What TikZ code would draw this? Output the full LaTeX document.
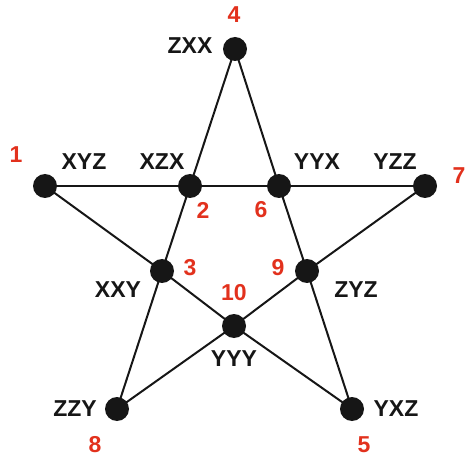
\documentclass[tikz,border=0pt]{standalone}
\usepackage{fontspec}
\setmainfont{Liberation Sans}
\definecolor{numred}{HTML}{E2311D}
\definecolor{dotblack}{HTML}{161616}
\begin{document}
\begin{tikzpicture}[x=1pt,y=-1pt,
  vert/.style={circle,fill=dotblack,inner sep=0pt,minimum size=24pt},
  edge/.style={draw=dotblack,line width=2pt},
  lab/.style={font=\fontsize{23}{25}\selectfont\bfseries,text=dotblack,inner sep=0pt},
  num/.style={font=\fontsize{23}{25}\selectfont\bfseries,text=numred,inner sep=0pt}]
\useasboundingbox (0,0) rectangle (466,457);
\coordinate (n4) at (235,49);
\coordinate (n1) at (45,186);
\coordinate (n2) at (190,186);
\coordinate (n6) at (279,186);
\coordinate (n7) at (425,186);
\coordinate (n3) at (162,271);
\coordinate (n9) at (307,271);
\coordinate (n10) at (234,326);
\coordinate (n8) at (117,409);
\coordinate (n5) at (352,409);
\draw[edge] (n4) -- (n2) -- (n3) -- (n8);
\draw[edge] (n4) -- (n6) -- (n9) -- (n5);
\draw[edge] (n1) -- (n2) -- (n6) -- (n7);
\draw[edge] (n1) -- (n3) -- (n10) -- (n5);
\draw[edge] (n7) -- (n9) -- (n10) -- (n8);
\foreach \n in {n4,n1,n2,n6,n7,n3,n9,n10,n8,n5} \node[vert] (d\n) at (\n) {};
% labels
\node[lab] (l4) at (190,46) {ZXX};
\node[lab] (l1) at (84,162) {XYZ};
\node[lab] (l2) at (162,162) {XZX};
\node[lab] (l6) at (317,162) {YYX};
\node[lab] (l7) at (395,162) {YZZ};
\node[lab] (l3) at (118,290) {XXY};
\node[lab] (l9) at (356,290) {ZYZ};
\node[lab] (l10) at (234,359) {YYY};
\node[lab] (l8) at (75,409) {ZZY};
\node[lab] (l5) at (396,409) {YXZ};
% numbers
\node[num] (c4) at (234,15) {4};
\node[num] (c1) at (16,155) {1};
\node[num] (c2) at (203,210) {2};
\node[num] (c6) at (261,210) {6};
\node[num] (c7) at (459,176) {7};
\node[num] (c3) at (190,268) {3};
\node[num] (c9) at (278,268) {9};
\node[num] (c10) at (234,293) {10};
\node[num] (c8) at (95,445) {8};
\node[num] (c5) at (364,445) {5};
\end{tikzpicture}
\end{document}
